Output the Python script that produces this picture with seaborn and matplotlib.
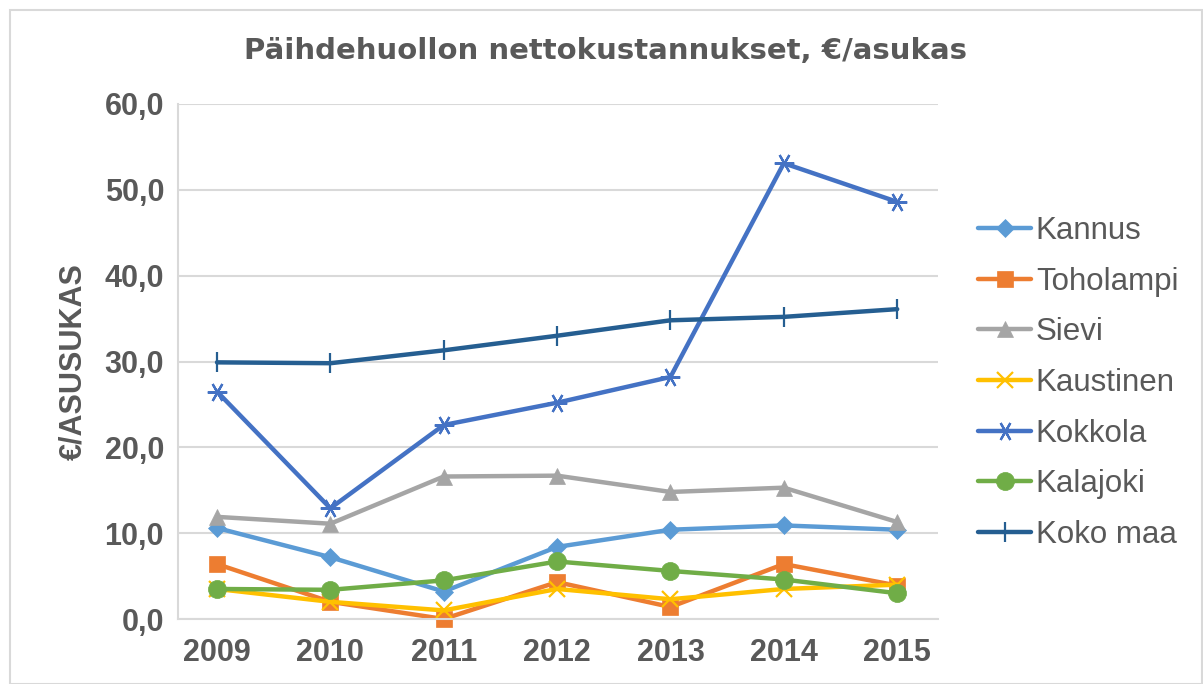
import matplotlib
matplotlib.use("Agg")
import matplotlib.pyplot as plt
import seaborn as sns
import pandas as pd
from matplotlib.patches import Rectangle

years = [2009, 2010, 2011, 2012, 2013, 2014, 2015]
kannus = [10.6, 7.2, 3.2, 8.4, 10.4, 10.9, 10.4]
toholampi = [6.4, 2.0, 0.0, 4.3, 1.4, 6.4, 3.9]
sievi = [11.9, 11.1, 16.6, 16.7, 14.8, 15.3, 11.3]
kaustinen = [3.5, 2.0, 1.0, 3.5, 2.3, 3.5, 4.0]
kokkola = [26.5, 12.9, 22.6, 25.2, 28.2, 53.1, 48.6]
kalajoki = [3.5, 3.4, 4.5, 6.7, 5.6, 4.6, 3.0]
koko_maa = [29.9, 29.8, 31.3, 33.0, 34.8, 35.2, 36.1]

series_names = ["Kannus", "Toholampi", "Sievi", "Kaustinen", "Kokkola", "Kalajoki", "Koko maa"]
series_values = [kannus, toholampi, sievi, kaustinen, kokkola, kalajoki, koko_maa]
colors = ["#5B9BD5", "#ED7D31", "#A5A5A5", "#FFC000", "#4472C4", "#70AD47", "#255E91"]
markers = ["D", "s", "^", "x", (6, 2, 90), "o", "|"]
msizes = [9, 11, 11, 12, 14, 13, 15]

sns.set_theme(style="white")
plt.rcParams["font.family"] = ["Liberation Sans", "DejaVu Sans"]
txt = "#595959"

fig = plt.figure(figsize=(12.03, 6.84), dpi=100)
ax = fig.add_axes([178 / 1203, 65 / 684, 760 / 1203, 515 / 684])

rows = []
for name, vals in zip(series_names, series_values):
    for y, v in zip(years, vals):
        rows.append({"Vuosi": y, "Arvo": v, "Kunta": name})
df = pd.DataFrame(rows)

for name, col, mk, ms in zip(series_names, colors, markers, msizes):
    sub = df[df["Kunta"] == name]
    sns.lineplot(data=sub, x="Vuosi", y="Arvo", ax=ax, color=col, lw=3.2,
                 marker=mk, markersize=ms, markeredgecolor=col,
                 markeredgewidth=1.6 if mk in ("x", "|") or isinstance(mk, tuple) else 0.5,
                 markerfacecolor=col, label=name, clip_on=False)

ax.set_xlim(2009 - 0.344, 2015 + 0.36)
ax.set_ylim(0, 60)
ax.set_yticks(range(0, 61, 10))
ax.set_yticklabels([f"{v:.1f}".replace(".", ",") for v in range(0, 61, 10)],
                   fontsize=22, fontweight="bold", color=txt)
ax.set_xticks(years)
ax.set_xticklabels([str(y) for y in years], fontsize=22, fontweight="bold", color=txt)
ax.tick_params(axis="both", length=0, pad=10)
ax.tick_params(axis="x", pad=14)
ax.grid(axis="y", color="#D9D9D9", lw=1.5)
ax.grid(axis="x", visible=False)
for s in ["top", "right"]:
    ax.spines[s].set_visible(False)
for s in ["left", "bottom"]:
    ax.spines[s].set_color("#D9D9D9")
    ax.spines[s].set_linewidth(1.5)
ax.set_xlabel("")
ax.set_ylabel("€/ASUSUKAS", fontsize=22, fontweight="bold", color=txt, labelpad=12)

fig.text(606 / 1203, 1 - 51 / 684, "Päihdehuollon nettokustannukset, €/asukas",
         ha="center", va="center", fontsize=21, fontweight="bold", color=txt,
         family=["DejaVu Sans"])

leg = ax.legend(loc="center left", bbox_to_anchor=(978 / 1203, (684 - 383) / 684),
                bbox_transform=fig.transFigure, frameon=False, fontsize=22.5,
                handlelength=1.7, handletextpad=0.15, labelspacing=0.66,
                borderpad=0, borderaxespad=0)
for t in leg.get_texts():
    t.set_color(txt)

fig.patches.append(Rectangle((10 / 1203, 0), 1 - 10 / 1203 - 0.001, 1 - 10 / 684,
                             transform=fig.transFigure, fill=False,
                             edgecolor="#D9D9D9", lw=1.5))

fig.savefig("out.png", dpi=100)
